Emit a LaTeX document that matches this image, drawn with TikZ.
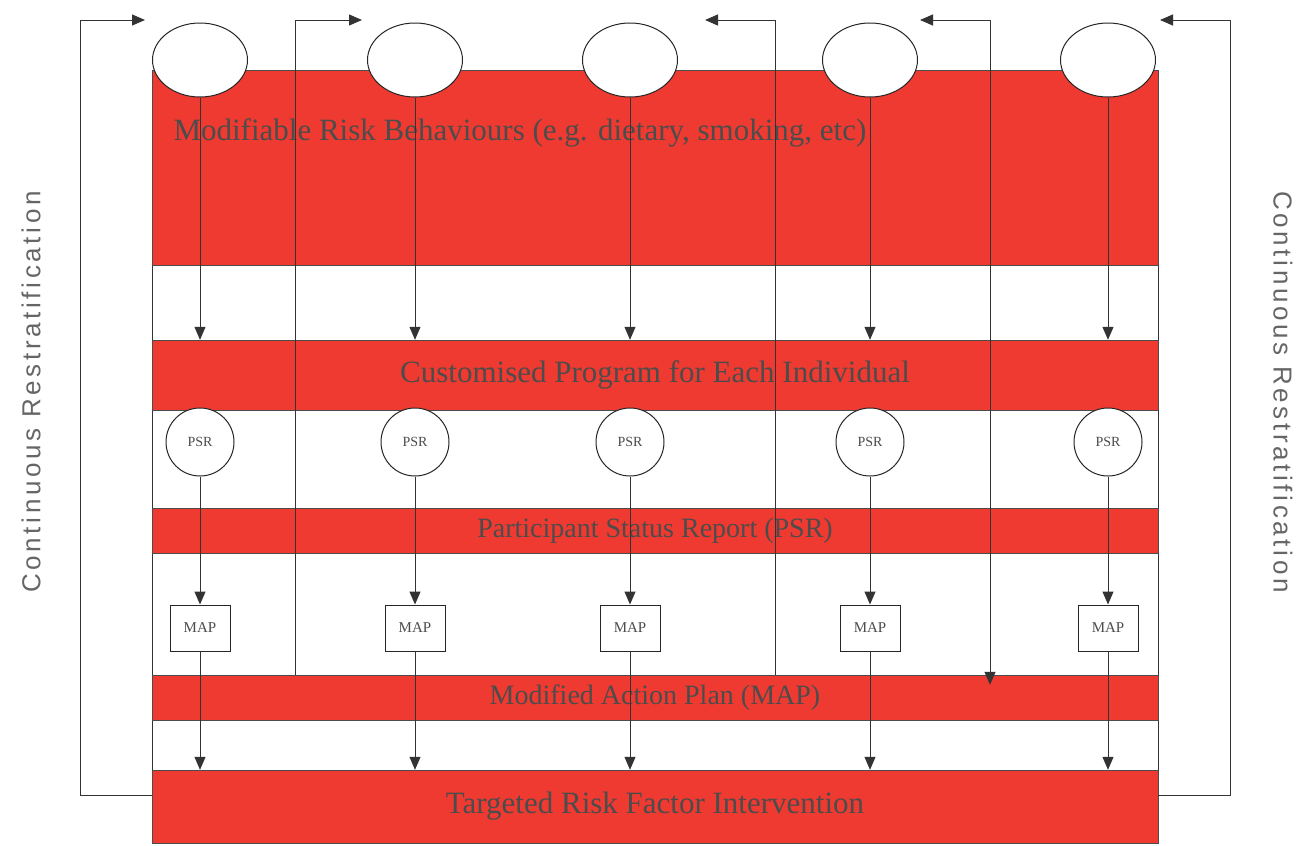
\documentclass[tikz,border=0pt]{standalone}
\usepackage{fontspec}
\setmainfont{Liberation Serif}
\newfontfamily\sidefont[LetterSpace=14]{Liberation Sans}
\usetikzlibrary{arrows.meta,shapes.geometric}
\definecolor{bandred}{RGB}{238,58,48}
\begin{document}
\begin{tikzpicture}[x=1pt, y=-1pt, >={Triangle[length=13pt,width=11pt]},
	band/.style={draw=black!70, fill=bandred, minimum width=1006pt, inner sep=0pt,
		font=\fontsize{31}{34}\selectfont, text=black!70},
	top/.style={ellipse, draw=black!85, line width=1pt, fill=white,
		minimum width=95pt, minimum height=74pt},
	psr/.style={circle, draw=black!85, line width=1pt, fill=white, minimum size=68pt,
		inner sep=0pt, font=\fontsize{14}{16}\selectfont, text=black!70},
	map/.style={rectangle, draw=black!85, line width=1pt, fill=white, minimum width=60pt,
		minimum height=46pt, inner sep=0pt, font=\fontsize{15}{17}\selectfont, text=black!70},
	side/.style={font=\sidefont\fontsize{26}{30}\selectfont, text=black!60},
	line/.style={draw=black!80, line width=1pt}]
	\useasboundingbox (0,0) rectangle (1312,846);
	% frame and bands
	\draw[line, fill=white] (152,70) rectangle (1158,843);
	\node[band, minimum height=195pt] (band1) at (655,167.5) {};
	\node[band, minimum height=70pt] (band2) at (655,375) {Customised Program for Each Individual};
	\node[band, minimum height=45pt, font=\fontsize{28}{30}\selectfont] (band3) at (655,530.5)
		{Participant Status Report (PSR)};
	\node[band, minimum height=45pt, font=\fontsize{28}{30}\selectfont] (band4) at (655,697.5)
		{Modified Action Plan (MAP)};
	\node[band, minimum height=73pt] (band5) at (655,806.5) {Targeted Risk Factor Intervention};
	\node[anchor=west, font=\fontsize{31}{34}\selectfont, text=black!70] (risk) at (170,133)
		{Modifiable Risk Behaviours (e.g. dietary, smoking, etc)};
	% one column per individual
	\foreach \i/\x in {1/200,2/415,3/630,4/870,5/1108} {
		\node[top] (e\i) at (\x,60) {};
		\node[psr] (p\i) at (\x,442) {PSR};
		\node[map] (m\i) at (\x,628) {MAP};
		\draw[line,->] (e\i.south) -- (e\i.south |- band2.north);
		\draw[line,->] (p\i.south) -- (m\i.north);
		\draw[line,->] (m\i.south) -- (m\i.south |- band5.north);
	}
	% restratification loops
	\coordinate (t1) at (145,20);
	\coordinate (t2) at (362,20);
	\coordinate (t3) at (705,20);
	\coordinate (t4) at (920,20);
	\coordinate (t5) at (1160,20);
	\coordinate (k1) at (80,20);
	\coordinate (k2) at (295,20);
	\coordinate (k3) at (775,20);
	\coordinate (k4) at (990,20);
	\coordinate (k5) at (1230,20);
	\coordinate (l1) at (152,795);
	\coordinate (l5) at (1158,795);
	\draw[line,->] (l1) -| (k1) -- (t1);
	\draw[line,->] (k2 |- band4.north) -- (k2) -- (t2);
	\draw[line,->] (k3 |- band4.north) -- (k3) -- (t3);
	\draw[line,<->, shorten <=-10pt] (k4 |- band4.north) -- (k4) -- (t4);
	\draw[line,->] (l5) -| (k5) -- (t5);
	\node[side, rotate=90] (left) at (31,392) {Continuous Restratification};
	\node[side, rotate=-90] (right) at (1283,392) {Continuous Restratification};
\end{tikzpicture}
\end{document}
